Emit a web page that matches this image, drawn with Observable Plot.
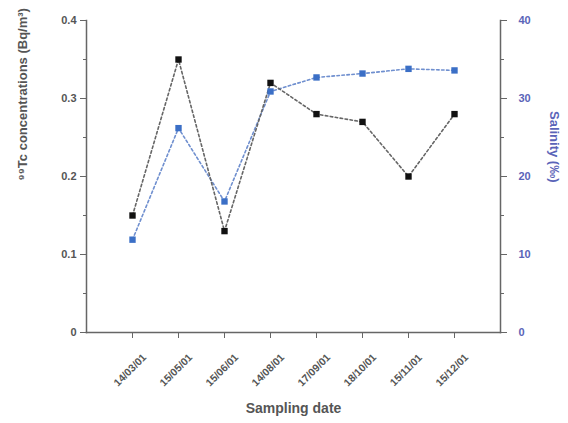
<!DOCTYPE html>
<html>
<head>
<meta charset="utf-8">
<script src="https://cdn.jsdelivr.net/npm/d3@7"></script>
<script src="https://cdn.jsdelivr.net/npm/@observablehq/plot@0.6"></script>
<style>
  html, body { margin: 0; padding: 0; background: #fff; }
  svg { font-family: "Liberation Sans", Arial, sans-serif; }
</style>
</head>
<body>
<div id="chart"></div>
<script>
const dates = ["14/03/01", "15/05/01", "15/06/01", "14/08/01", "17/09/01", "18/10/01", "15/11/01", "15/12/01"];
const tc = [0.15, 0.35, 0.13, 0.32, 0.28, 0.27, 0.20, 0.28];
const salinity = [11.9, 26.2, 16.8, 30.9, 32.7, 33.2, 33.8, 33.6];
const leftTicks = [0, 0.1, 0.2, 0.3, 0.4];
const leftMinor = [0.05, 0.15, 0.25, 0.35];
const rightTicks = [0, 10, 20, 30, 40];

const tcData = dates.map((d, i) => ({date: d, v: tc[i]}));
const salData = dates.map((d, i) => ({date: d, s: salinity[i]}));
const salToY = s => s / 100; // right axis 0–40 mapped onto 0–0.4

const blue = "#3b6fc6";
const axisColor = "#666";

const chart = Plot.plot({
  width: 568,
  height: 423,
  marginLeft: 86,
  marginRight: 68,
  marginTop: 20,
  marginBottom: 91,
  style: {fontFamily: "Liberation Sans, Arial, sans-serif", background: "#fff"},
  x: {type: "point", domain: dates, padding: 1},
  y: {domain: [0, 0.4]},
  marks: [
    Plot.frame({anchor: "left", stroke: axisColor, strokeWidth: 1.5}),
    Plot.frame({anchor: "right", stroke: axisColor, strokeWidth: 1.5}),
    Plot.frame({anchor: "bottom", stroke: axisColor, strokeWidth: 1.5}),
    // left axis
    Plot.axisY({ticks: leftTicks, tickSize: 6, tickFormat: d => d === 0 ? "0" : d3.format(".1f")(d),
      fontSize: 11, fontWeight: "bold", color: "#555", stroke: axisColor, label: null, tickPadding: 4}),
    Plot.axisY({ticks: leftMinor, tickSize: 3, text: null, stroke: axisColor, label: null}),
    // right axis
    Plot.axisY({anchor: "right", ticks: rightTicks.map(salToY), tickSize: 6, tickFormat: d => String(Math.round(d * 100)),
      fontSize: 11, fontWeight: "bold", color: "#5a64b8", stroke: axisColor, label: null, tickPadding: 12}),
    Plot.axisY({anchor: "right", ticks: leftMinor, tickSize: 3, text: null, stroke: axisColor, label: null}),
    // x axis
    Plot.axisX({tickSize: 6, text: null, stroke: axisColor, label: null}),
    Plot.text(dates, {x: d => d, frameAnchor: "bottom", dy: 40, rotate: -45, textAnchor: "middle",
      fontSize: 10.5, fontWeight: "bold", fill: "#555"}),
    // titles
    Plot.text(["Sampling date"], {frameAnchor: "bottom", dy: 80, fontSize: 14, fontWeight: "bold", fill: "#555"}),
    Plot.text(["⁹⁹Tc concentrations (Bq/m³)"], {frameAnchor: "left", dx: -64, dy: 4, rotate: -90,
      fontSize: 13, fontWeight: "bold", fill: "#555"}),
    Plot.text(["Salinity (‰)"], {frameAnchor: "right", dx: 54, dy: 6, rotate: 90,
      fontSize: 13, fontWeight: "bold", fill: "#5a64b8"}),
    // series
    Plot.line(salData, {x: "date", y: d => salToY(d.s), stroke: "#6f8fcf", strokeWidth: 1.6, strokeDasharray: "2.5,2.5"}),
    Plot.line(tcData, {x: "date", y: "v", stroke: "#666", strokeWidth: 1.6, strokeDasharray: "2.5,2.5"}),
    Plot.dot(tcData, {x: "date", y: "v", symbol: "square", r: 3.6, fill: "#111"}),
    Plot.dot(salData, {x: "date", y: d => salToY(d.s), symbol: "square", r: 3.6, fill: blue})
  ]
});
document.getElementById("chart").appendChild(chart);
</script>
</body>
</html>
